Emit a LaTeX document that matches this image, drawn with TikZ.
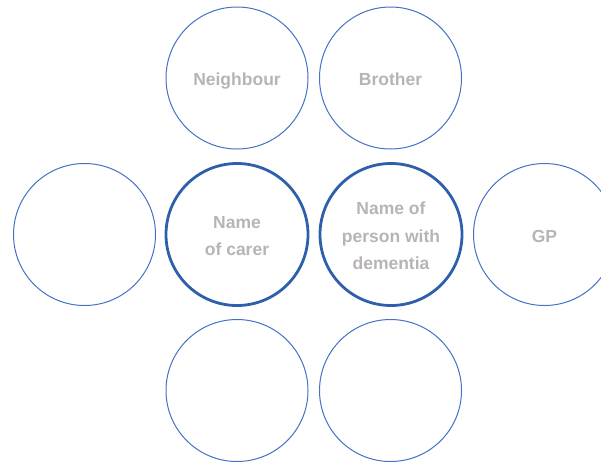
\documentclass[tikz,border=0pt]{standalone}
\usepackage{fontspec}
\setmainfont{Liberation Sans}
\definecolor{thinblue}{RGB}{68,114,196}
\definecolor{thickblue}{RGB}{46,95,170}
\definecolor{txtgray}{RGB}{184,180,178}
\newcommand\topstr{\rule{0pt}{23.5pt}}
\newcommand\botstr{\rule[-8.25pt]{0pt}{8.25pt}}
\tikzset{
  bubble/.style={circle, draw=thinblue, line width=1pt, minimum size=142pt, inner sep=0pt,
    align=center, text=txtgray, font=\fontsize{17.5}{27.5}\selectfont\bfseries},
  keybubble/.style={bubble, draw=thickblue, line width=2.8pt}
}
\begin{document}
\begin{tikzpicture}[x=1pt,y=-1pt]
\useasboundingbox (0,0) rectangle (601,461);
\node[bubble] (neigh) at (237,78) {\topstr Neighbour\botstr};
\node[bubble] (bro) at (390.5,78) {\topstr Brother\botstr};
\node[bubble] (left) at (84.5,234.5) {};
\node[keybubble] (carer) at (237,234.5) {\topstr Name\\of carer\botstr};
\node[keybubble] (person) at (391,234.5) {\topstr Name of\\person with\\dementia\botstr};
\node[bubble] (gp) at (544.5,234.5) {\topstr GP\botstr};
\node[bubble] (bl) at (237,390.5) {};
\node[bubble] (br) at (390.5,390.5) {};
\end{tikzpicture}
\end{document}
